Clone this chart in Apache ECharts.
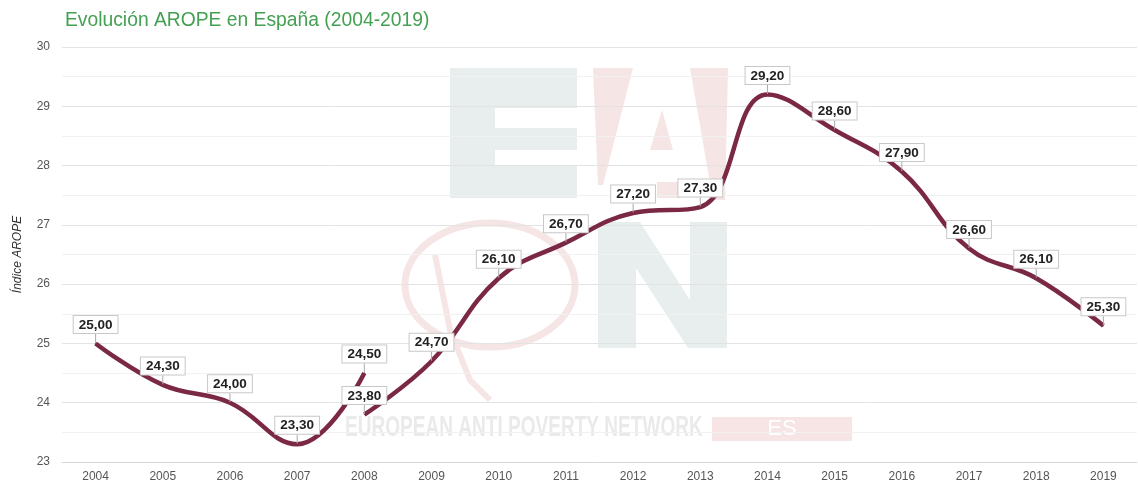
<!DOCTYPE html>
<html><head><meta charset="utf-8">
<script src="https://cdn.jsdelivr.net/npm/echarts@6/dist/echarts.min.js"></script>
<style>html,body{margin:0;padding:0;background:#fff}#c{width:1138px;height:486px}</style>
</head><body><div id="c"></div>
<script>
const categories = ['2004','2005','2006','2007','2008','2009','2010','2011','2012','2013','2014','2015','2016','2017','2018','2019'];
const seriesBefore = [25.0, 24.3, 24.0, 23.3, 24.5, null, null, null, null, null, null, null, null, null, null, null];
const seriesAfter  = [null, null, null, null, 23.8, 24.7, 26.1, 26.7, 27.2, 27.3, 29.2, 28.6, 27.9, 26.6, 26.1, 25.3];
const yTicks = [23, 24, 25, 26, 27, 28, 29, 30];

const chart = echarts.init(document.getElementById('c'));
const lineColor = '#7a2843';
const fmt = p => p.value.toFixed(2).replace('.', ',');
function mkSeries(data) {
  return {
    type: 'line', data: data, smooth: 0.42, connectNulls: false,
    symbol: 'circle', symbolSize: 1, showSymbol: true,
    itemStyle: { color: lineColor },
    lineStyle: { color: lineColor, width: 4.5 },
    label: {
      show: true, position: 'top', distance: 0, formatter: fmt,
      fontFamily: 'Liberation Sans, Arial, sans-serif', fontSize: 13.5, fontWeight: 'bold', color: '#222',
      backgroundColor: '#fff', borderColor: '#c8c8c8', borderWidth: 1, padding: [2, 5, 1, 5]
    },
    labelLayout: { dy: -10 },
    labelLine: { show: true, lineStyle: { color: '#aaa', width: 1 } },
    emphasis: { disabled: true }, z: 3
  };
}
const wmBlue = '#e8eeee', wmPink = '#f6e5e5';
chart.setOption({
  animation: false,
  title: { text: 'Evolución AROPE en España (2004-2019)', left: 60, top: 6,
    textStyle: { color: '#44a052', fontSize: 19.3, fontWeight: 'normal', fontFamily: 'Liberation Sans, Arial, sans-serif' } },
  grid: { left: 62, right: 1, top: 47, bottom: 24, containLabel: false },
  graphic: [
    { type: 'rect', z: -5, shape: { x: 450, y: 68, width: 127, height: 130 }, style: { fill: wmBlue } },
    { type: 'rect', z: -4, shape: { x: 495, y: 108, width: 82, height: 20 }, style: { fill: '#fff' } },
    { type: 'rect', z: -4, shape: { x: 495, y: 150, width: 82, height: 16 }, style: { fill: '#fff' } },
    { type: 'polygon', z: -5, shape: { points: [[593,68],[633,68],[603,185],[598,185]] }, style: { fill: wmPink } },
    { type: 'polygon', z: -5, shape: { points: [[690,68],[728,68],[725,200],[713,200]] }, style: { fill: wmPink } },
    { type: 'polygon', z: -5, shape: { points: [[662,110],[673,150],[650,150]] }, style: { fill: wmPink } },
    { type: 'rect', z: -5, shape: { x: 657, y: 182, width: 24, height: 16 }, style: { fill: wmPink } },
    { type: 'polygon', z: -5, shape: { points: [[598,222],[640,222],[690,300],[690,222],[727,222],[727,348],[688,348],[636,268],[636,348],[598,348]] }, style: { fill: wmBlue } },
    { type: 'ellipse', z: -5, shape: { cx: 490, cy: 285, rx: 85, ry: 62 }, style: { fill: 'none', stroke: wmPink, lineWidth: 7 } },
    { type: 'polyline', z: -5, shape: { points: [[435,255],[450,330],[470,380],[490,400]] }, style: { stroke: wmPink, lineWidth: 6, fill: 'none' } },
    { type: 'text', z: -5, x: 345, y: 413, scaleX: 0.635, style: { text: 'EUROPEAN ANTI POVERTY NETWORK', fill: '#eaeaea', font: 'bold 30px "Liberation Sans", sans-serif' } },
    { type: 'rect', z: -5, shape: { x: 712, y: 417, width: 140, height: 24 }, style: { fill: '#f7e5e6' } },
    { type: 'text', z: -4, x: 782, y: 429, style: { text: 'ES', fill: '#fff', font: '22px "Liberation Sans", sans-serif', align: 'center', verticalAlign: 'middle' } }
  ],
  xAxis: {
    type: 'category', data: categories, boundaryGap: true,
    axisLine: { show: true, lineStyle: { color: '#d6d6d6' } },
    axisTick: { show: false },
    axisLabel: { color: '#555', fontSize: 12, margin: 9, fontFamily: 'Liberation Sans, Arial, sans-serif' },
    splitLine: { show: false }
  },
  yAxis: {
    type: 'value', min: yTicks[0], max: yTicks[yTicks.length - 1], interval: 1,
    name: 'Índice AROPE', nameLocation: 'middle', nameGap: 38, nameRotate: 90,
    nameTextStyle: { color: '#333', fontSize: 12, fontStyle: 'italic', fontFamily: 'Liberation Sans, Arial, sans-serif' },
    axisLine: { show: false }, axisTick: { show: false },
    axisLabel: { color: '#555', fontSize: 12, margin: 12, fontFamily: 'Liberation Sans, Arial, sans-serif',
      formatter: v => yTicks.indexOf(v) >= 0 ? String(v) : '' },
    splitLine: { show: true, lineStyle: { color: '#e3e3e3', width: 1 } },
    minorTick: { show: false, splitNumber: 2 },
    minorSplitLine: { show: true, lineStyle: { color: '#f1f1f1', width: 1 } }
  },
  series: [mkSeries(seriesBefore), mkSeries(seriesAfter)]
});
</script></body></html>
